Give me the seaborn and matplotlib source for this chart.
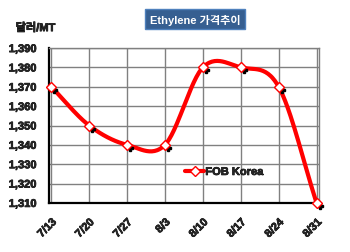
import numpy as np
import pandas as pd
import seaborn as sns
import matplotlib
matplotlib.use("Agg")
import matplotlib.pyplot as plt
import matplotlib.transforms as mtransforms
import matplotlib.patheffects as pe

dates = ["7/13", "7/20", "7/27", "8/3", "8/10", "8/17", "8/24", "8/31"]
prices = [1370, 1350, 1340, 1340, 1380, 1380, 1370, 1310]
yticks = [1310, 1320, 1330, 1340, 1350, 1360, 1370, 1380, 1390]

sns.set_style("white")
plt.rcParams['font.family'] = ['Liberation Sans', 'Noto Sans CJK KR', 'DejaVu Sans']

df = pd.DataFrame({"idx": np.arange(len(dates)), "price": prices})

# Catmull-Rom smoothing (like Excel smoothed line)
def smooth(x, y, n=30):
    x = np.asarray(x, float); y = np.asarray(y, float)
    px = np.concatenate([[2*x[0]-x[1]], x, [2*x[-1]-x[-2]]])
    py = np.concatenate([[2*y[0]-y[1]], y, [2*y[-1]-y[-2]]])
    xs, ys = [], []
    t = np.linspace(0, 1, n)
    for i in range(1, len(px)-2):
        for p, out in ((px, xs), (py, ys)):
            p0, p1, p2, p3 = p[i-1], p[i], p[i+1], p[i+2]
            out.extend(0.5*((2*p1) + (-p0+p2)*t + (2*p0-5*p1+4*p2-p3)*t**2 + (-p0+3*p1-3*p2+p3)*t**3))
    return np.array(xs), np.array(ys)

sx, sy = smooth(df["idx"], df["price"])

fig = plt.figure(figsize=(3.5, 2.53), dpi=100)
ax = fig.add_axes([0.14, 0.194, 0.771, 0.612])

ax.set_ylim(1310, 1390)
ax.set_xlim(-0.06, 7.06)
ax.set_yticks(yticks)
ax.set_xticks(df["idx"])
ax.grid(True, color="#808080", linewidth=1.0)
ax.set_axisbelow(True)

sns.lineplot(x=sx, y=sy, ax=ax, color="#FF0000", linewidth=3, zorder=4, sort=False, legend=False)

# shadow markers
shadow = mtransforms.offset_copy(ax.transData, fig=fig, x=3, y=-3, units='dots')
ax.plot(df["idx"], df["price"], linestyle='none', marker='P', markersize=4,
        color='black', transform=shadow, zorder=4.5, clip_on=False)

ax.plot(df["idx"], df["price"], linestyle='none', marker='D', markersize=5,
        markerfacecolor='white', markeredgecolor='#FF0000', markeredgewidth=1, zorder=5,
        clip_on=False)

heavy = [pe.withStroke(linewidth=0.5, foreground='black')]

# legend handle
ax.plot([], [], color="#FF0000", linewidth=3, marker='D', markersize=5,
        markerfacecolor='white', markeredgecolor='#FF0000', label="FOB Korea")
leg = ax.legend(loc='center', bbox_to_anchor=(0.65, 0.2), frameon=False,
                prop={'weight': 'bold', 'size': 8}, handlelength=1.7, handletextpad=0.1)
for t in leg.get_texts():
    t.set_path_effects(heavy)

ax.set_yticklabels([f"{v:,}" for v in yticks], fontsize=8, fontweight='bold')
ax.set_xticklabels(dates, fontsize=8, fontweight='bold', rotation=45, ha='right',
                   rotation_mode='anchor')
for t in ax.get_xticklabels() + ax.get_yticklabels():
    t.set_path_effects(heavy)
ax.tick_params(axis='y', length=0, pad=9)
ax.tick_params(axis='x', length=0, pad=10)

for s in ['left', 'bottom']:
    ax.spines[s].set_color('black'); ax.spines[s].set_linewidth(1.6)
for s in ['top', 'right']:
    ax.spines[s].set_color('#808080'); ax.spines[s].set_linewidth(1.0)

fig.text(0.045, 0.885, "달러/MT", fontsize=8, fontweight='bold', ha='left', va='center',
         path_effects=heavy)
fig.text(0.557, 0.92, "Ethylene 가격추이", fontsize=8, fontweight='bold', color='white',
         ha='center', va='center',
         bbox=dict(boxstyle='square,pad=0.4', facecolor='#365F91', edgecolor='#4F81BD'))

fig.savefig("out.png", dpi=100)
